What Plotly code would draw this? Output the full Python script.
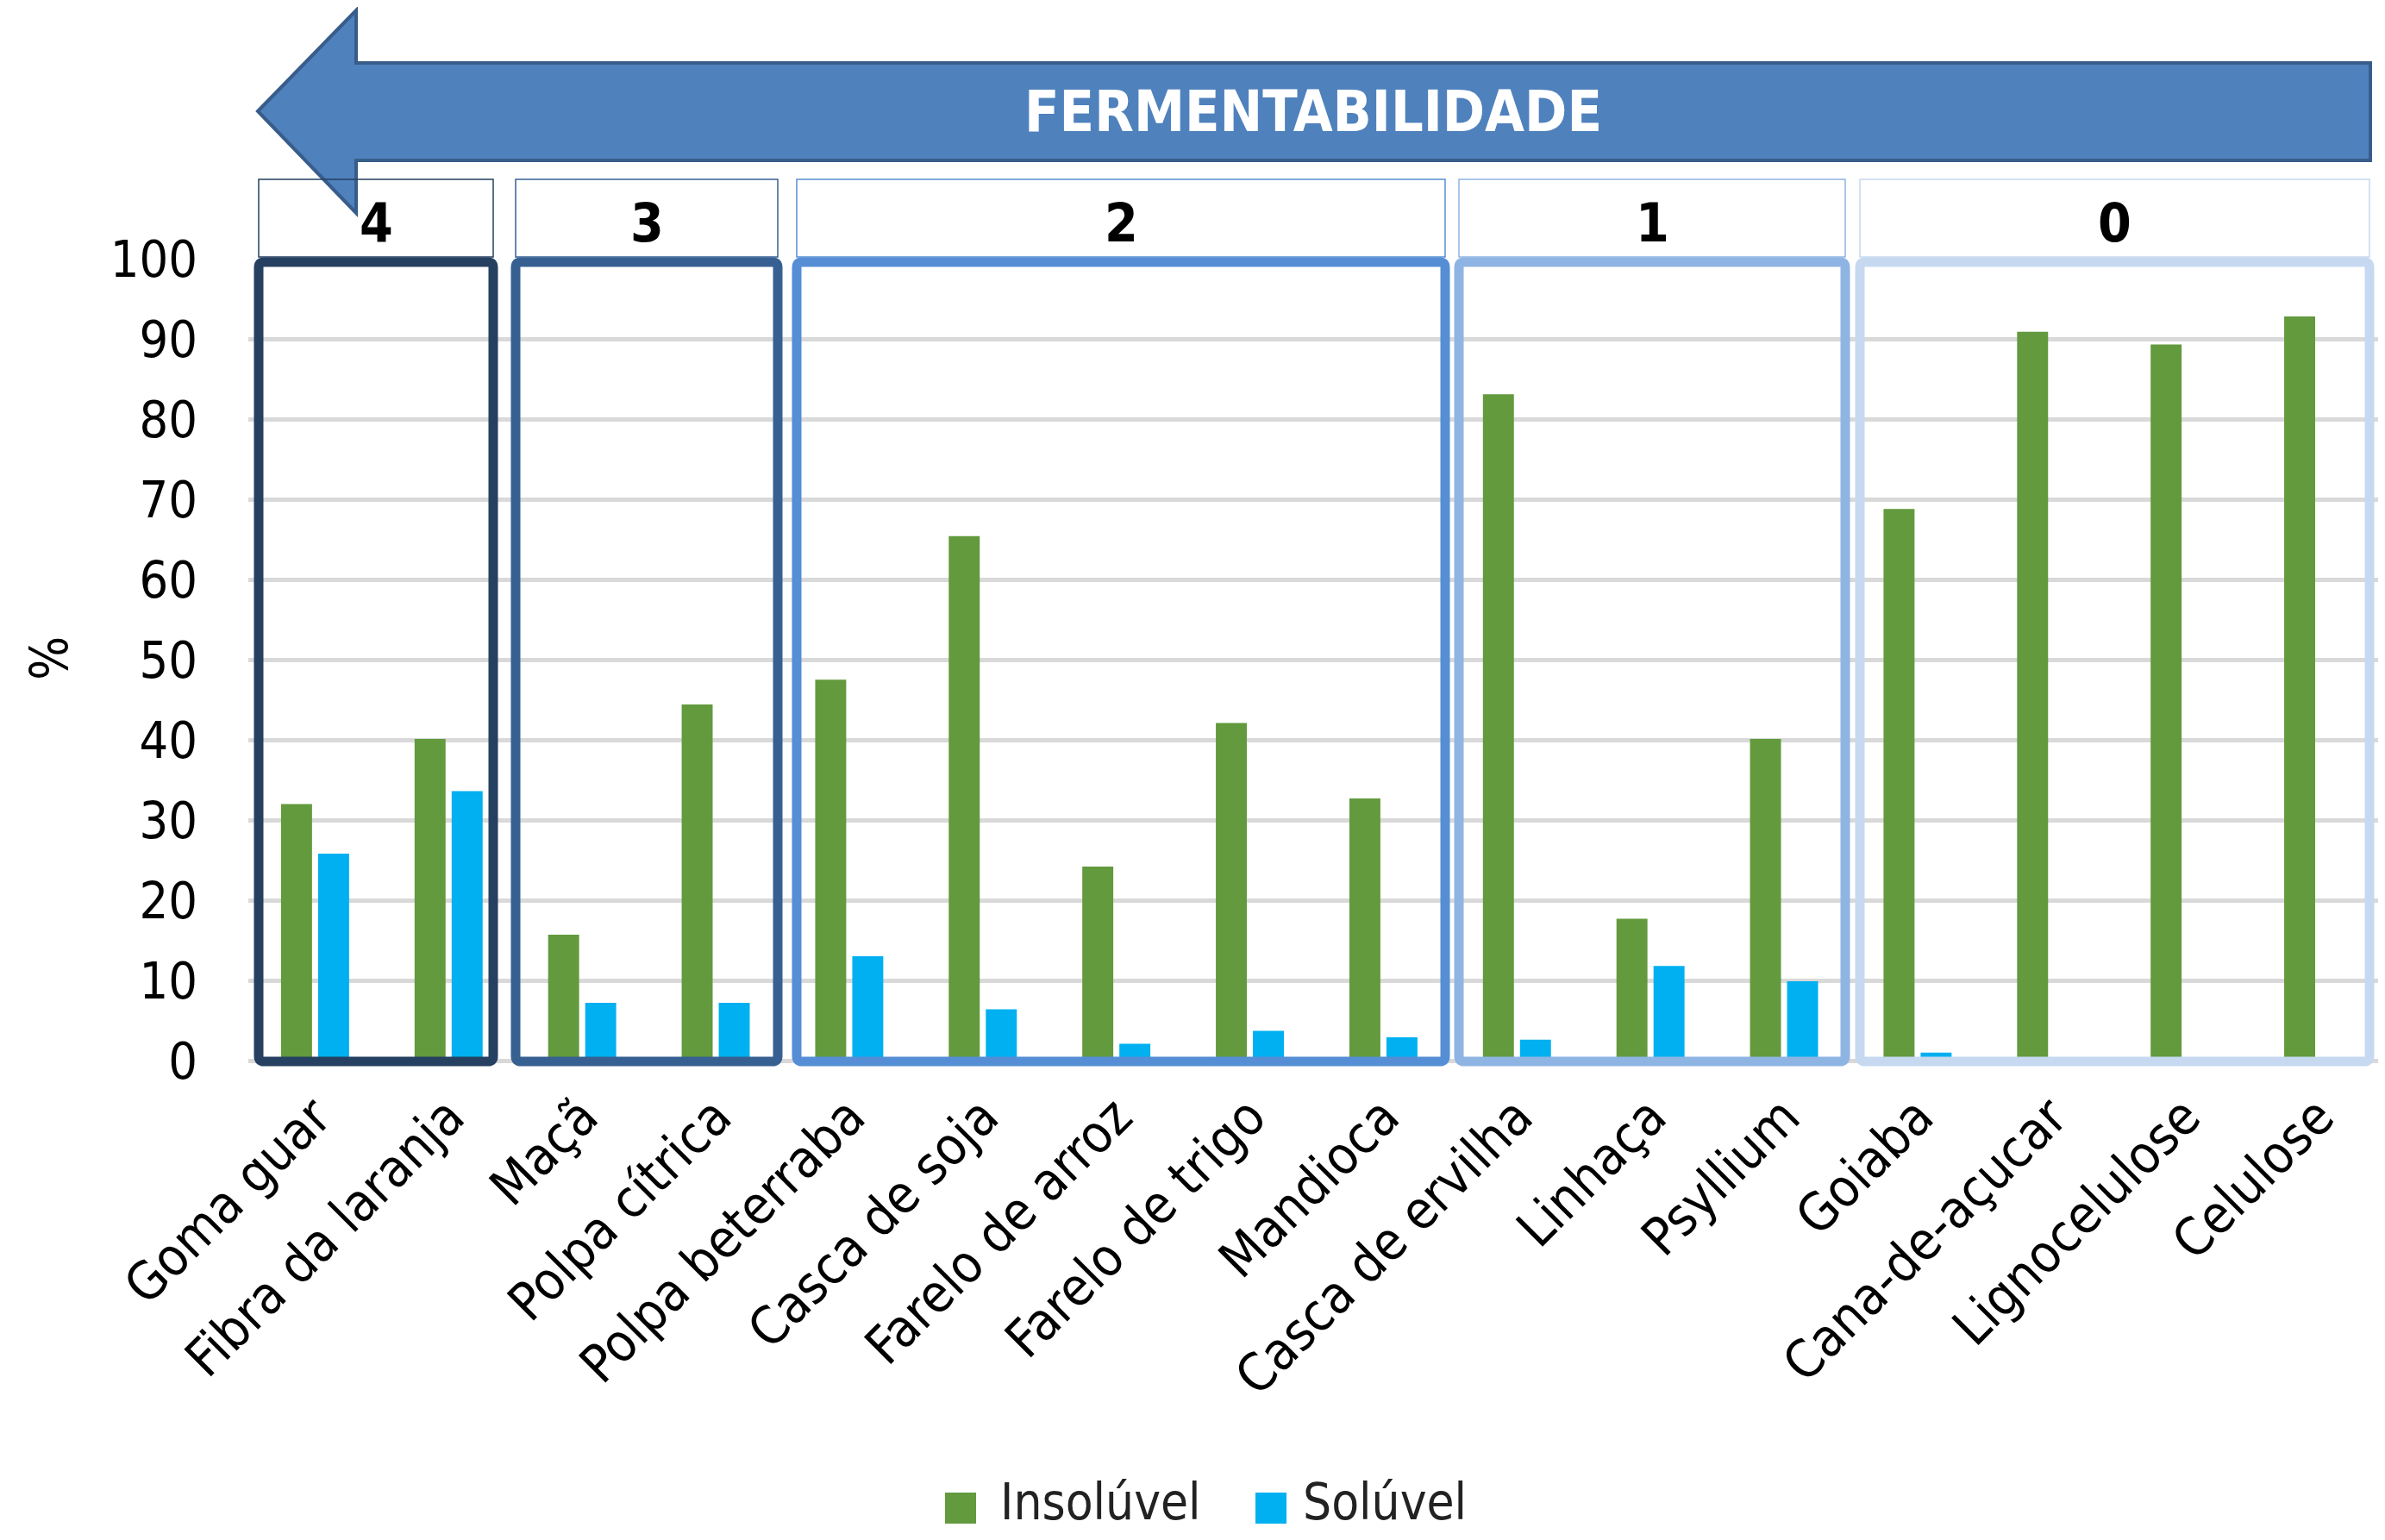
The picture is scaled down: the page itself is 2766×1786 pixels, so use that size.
import plotly.graph_objects as go

categories = ["Goma guar", "Fibra da laranja", "Maçã", "Polpa cítrica", "Polpa beterraba",
              "Casca de soja", "Farelo de arroz", "Farelo de trigo", "Mandioca",
              "Casca de ervilha", "Linhaça", "Psyllium", "Goiaba", "Cana-de-açucar",
              "Lignocelulose", "Celulose"]
insoluvel = [32.0, 40.1, 15.7, 44.4, 47.5, 65.4, 24.2, 42.1, 32.7, 83.1, 17.7, 40.1, 68.8, 90.9, 89.3, 92.8]
soluvel = [25.8, 33.6, 7.2, 7.2, 13.0, 6.4, 2.1, 3.7, 2.9, 2.6, 11.8, 9.9, 1.0, 0, 0, 0]
series_names = ["Insolúvel", "Solúvel"]
group_labels = ["4", "3", "2", "1", "0"]
y_ticks = [0, 10, 20, 30, 40, 50, 60, 70, 80, 90, 100]
arrow_label = "FERMENTABILIDADE"
y_title = "%"

# ---- layout constants ----
# The page places the figure 8px from the top-left corner; page pixel p -> figure pixel p - 8.
OFF = 8
W, H = 2750, 1770
L_PAGE, T_PAGE, BOT_PAGE = 288, 300, 1230
L, T = L_PAGE - OFF, T_PAGE - OFF
R = 0
B = H - (BOT_PAGE - OFF)
PW, PH = W - L - R, H - T - B
BAND = 154.875
x_range = [-0.5, -0.5 + PW / BAND]

def X(p):
    return (p - L_PAGE) / PW
def Y(p):
    return (BOT_PAGE - p) / PH

GREEN = "#629A3D"
BLUE = "#00B0F0"
group_colors = ["#254061", "#376092", "#558ED5", "#8EB4E3", "#C6D9F1"]
box_px = [(300, 572), (598, 902), (924, 1676), (1692, 2140), (2157, 2748)]

FONT = "DejaVu Sans Condensed, Liberation Sans, sans-serif"

fig = go.Figure()
fig.add_trace(go.Bar(x=categories, y=insoluvel, name=series_names[0], marker_color=GREEN,
                     marker_line_width=0, width=0.232, offset=-0.255))
fig.add_trace(go.Bar(x=categories, y=soluvel, name=series_names[1], marker_color=BLUE,
                     marker_line_width=0, width=0.232, offset=0.0226))

shapes = []
annotations = []

def rounded_rect(x0, y0, x1, y1, r):
    pts = [
        f"M{X(x0 + r)},{Y(y0)}", f"L{X(x1 - r)},{Y(y0)}", f"Q{X(x1)},{Y(y0)} {X(x1)},{Y(y0 + r)}",
        f"L{X(x1)},{Y(y1 - r)}", f"Q{X(x1)},{Y(y1)} {X(x1 - r)},{Y(y1)}",
        f"L{X(x0 + r)},{Y(y1)}", f"Q{X(x0)},{Y(y1)} {X(x0)},{Y(y1 - r)}",
        f"L{X(x0)},{Y(y0 + r)}", f"Q{X(x0)},{Y(y0)} {X(x0 + r)},{Y(y0)}", "Z"]
    return " ".join(pts)

# arrow
arrow_pts = [(299, 129), (413, 12), (413, 73), (2749, 73), (2749, 186), (413, 186), (413, 247)]
path = "M" + " L".join(f"{X(a)},{Y(b)}" for a, b in arrow_pts) + " Z"
shapes.append(dict(type="path", xref="paper", yref="paper", path=path,
                   fillcolor="#4F81BD", line=dict(color="#385D8A", width=4), layer="above"))
annotations.append(dict(xref="paper", yref="paper", x=X(1523), y=Y(129), text=f"<b>{arrow_label}</b>",
                        showarrow=False, font=dict(family=FONT, size=66, color="white"),
                        xanchor="center", yanchor="middle"))

for lab, col, (x0, x1) in zip(group_labels, group_colors, box_px):
    shapes.append(dict(type="rect", xref="paper", yref="paper", x0=X(x0), x1=X(x1), y0=Y(298), y1=Y(208),
                       line=dict(color=col, width=1.5), fillcolor="rgba(0,0,0,0)", layer="above"))
    annotations.append(dict(xref="paper", yref="paper", x=X((x0 + x1) / 2), y=Y(258), text=f"<b>{lab}</b>",
                            showarrow=False, font=dict(family=FONT, size=62, color="black"),
                            xanchor="center", yanchor="middle"))
    shapes.append(dict(type="path", xref="paper", yref="paper", path=rounded_rect(x0, 304, x1, 1231, 6),
                       line=dict(color=col, width=11), fillcolor="rgba(0,0,0,0)", layer="above"))

# y title
annotations.append(dict(xref="paper", yref="paper", x=X(57), y=Y(764), text=y_title, textangle=-90,
                        showarrow=False, font=dict(family=FONT, size=60, color="black"),
                        xanchor="center", yanchor="middle"))

# legend (manual)
for name, col, sq_x, tx in zip(series_names, [GREEN, BLUE], [1096, 1456], [1158, 1509]):
    shapes.append(dict(type="rect", xref="paper", yref="paper", x0=X(sq_x), x1=X(sq_x + 36),
                       y0=Y(1767), y1=Y(1731), fillcolor=col, line=dict(width=0)))
    annotations.append(dict(xref="paper", yref="paper", x=X(tx), y=Y(1742), text=name, showarrow=False,
                            font=dict(family=FONT, size=58, color="#222222"),
                            xanchor="left", yanchor="middle"))

fig.update_layout(
    width=W, height=H, margin=dict(l=L, r=R, t=T, b=B, autoexpand=False),
    paper_bgcolor="white", plot_bgcolor="white",
    barmode="overlay", showlegend=False,
    shapes=shapes, annotations=annotations,
    xaxis=dict(type="category", tickangle=-45, showgrid=False, showline=False, ticks="",
               ticklabelstandoff=16, range=x_range,
               tickfont=dict(family=FONT, size=61, color="black"), automargin=False),
    yaxis=dict(range=[0, 100], tickvals=y_ticks, showgrid=True, gridcolor="#D9D9D9", gridwidth=5,
               zeroline=True, zerolinecolor="#D9D9D9", zerolinewidth=5, showline=False, ticks="",
               ticklabelstandoff=58, tickfont=dict(family=FONT, size=59, color="black"),
               automargin=False),
)

fig.write_html("out.html")
